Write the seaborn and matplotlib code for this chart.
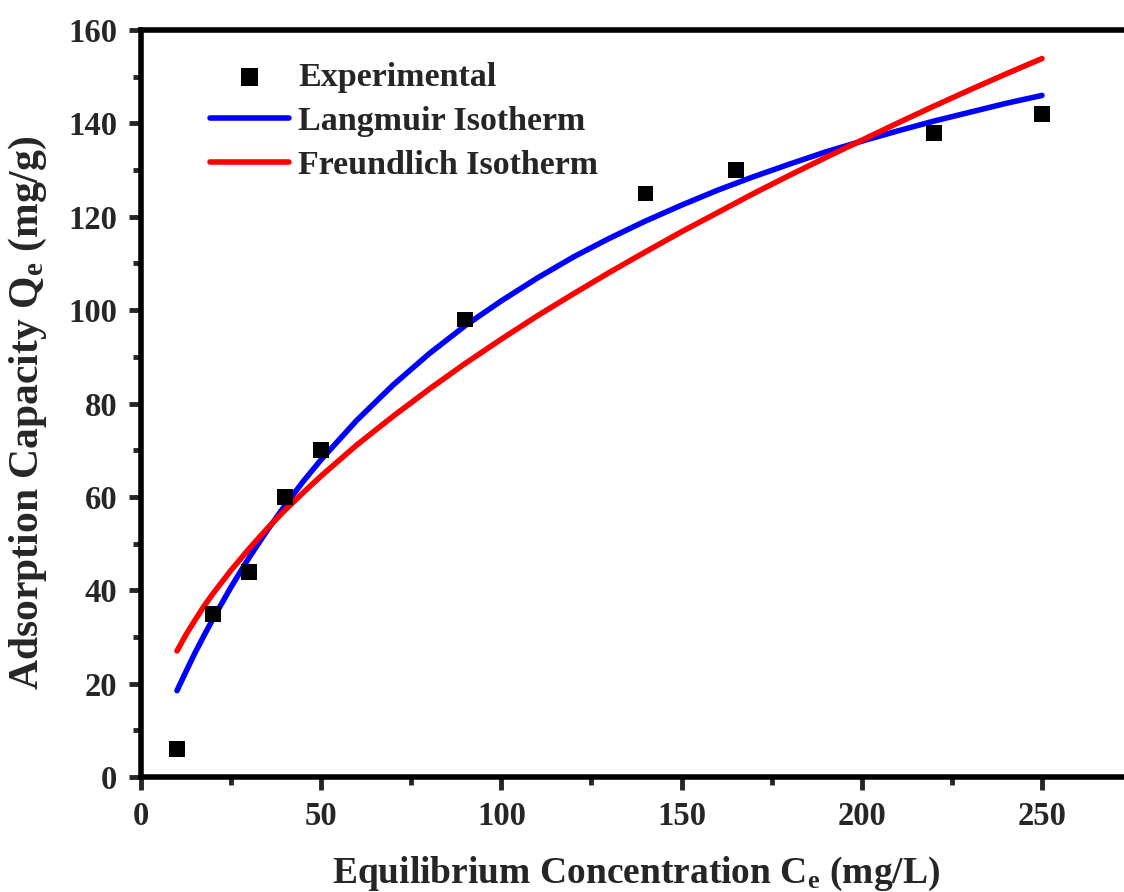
import matplotlib
matplotlib.use("Agg")
import matplotlib.pyplot as plt
from matplotlib.ticker import MultipleLocator
import pandas as pd
import seaborn as sns

# Measured equilibrium data
ce_exp = [10, 20, 30, 40, 50, 90, 140, 165, 220, 250]
qe_exp = [6, 35, 44, 60, 70, 98, 125, 130, 138, 142]

# Fitted isotherm curves
ce_fit = [10, 12.5, 15, 17.5, 20, 25, 30, 35, 40, 45, 50, 60, 70, 80, 90,
          100, 110, 120, 130, 140, 150, 160, 170, 180, 190, 200, 210, 220,
          230, 240, 250]
qe_langmuir = [18.5, 22.6, 26.6, 30.3, 33.9, 40.7, 47.0, 52.8, 58.2, 63.3,
               68.0, 76.5, 84.0, 90.7, 96.7, 102.0, 106.9, 111.4, 115.4,
               119.1, 122.5, 125.7, 128.6, 131.3, 133.9, 136.2, 138.4, 140.5,
               142.4, 144.3, 146.0]
qe_freundlich = [27.0, 30.5, 33.6, 36.6, 39.3, 44.3, 48.9, 53.2, 57.2, 60.9,
                 64.5, 71.2, 77.3, 83.1, 88.6, 93.8, 98.8, 103.5, 108.1,
                 112.5, 116.8, 120.9, 125.0, 128.9, 132.7, 136.4, 140.1,
                 143.7, 147.2, 150.6, 153.9]

sns.set_style("ticks")
plt.rcParams["font.family"] = ["Liberation Serif", "DejaVu Serif"]
plt.rcParams["font.weight"] = "bold"
plt.rcParams["mathtext.fontset"] = "custom"
plt.rcParams["mathtext.rm"] = "Liberation Serif:bold"
plt.rcParams["mathtext.it"] = "Liberation Serif:bold"
plt.rcParams["mathtext.bf"] = "Liberation Serif:bold"

fig = plt.figure(figsize=(11.24, 8.92), dpi=100)
ax = fig.add_axes([0.1254, 0.1289, 0.8818, 0.8374])

exp_df = pd.DataFrame({"Ce": ce_exp, "Qe": qe_exp})
fit_df = pd.DataFrame({"Ce": ce_fit, "L": qe_langmuir, "F": qe_freundlich})

sns.scatterplot(data=exp_df, x="Ce", y="Qe", marker="s", s=130, color="black",
                edgecolor="none", ax=ax, label="Experimental", zorder=3)
sns.lineplot(data=fit_df, x="Ce", y="L", color="#0000ff", lw=4.0, ax=ax,
             label="Langmuir Isotherm", zorder=2)
sns.lineplot(data=fit_df, x="Ce", y="F", color="#ff0000", lw=4.0, ax=ax,
             label="Freundlich Isotherm", zorder=2)

ax.set_xlim(0, 275)
ax.set_ylim(0, 160)
ax.xaxis.set_major_locator(MultipleLocator(50))
ax.xaxis.set_minor_locator(MultipleLocator(25))
ax.yaxis.set_major_locator(MultipleLocator(20))
ax.yaxis.set_minor_locator(MultipleLocator(10))

for side in ["left", "bottom", "top", "right"]:
    ax.spines[side].set_linewidth(4)
    ax.spines[side].set_color("black")

ax.tick_params(which="major", direction="out", length=9, width=3.5,
               labelsize=23.5, pad=8, top=False, right=False)
ax.tick_params(which="minor", direction="out", length=5.5, width=3.5,
               top=False, right=False)
for tl in ax.xaxis.get_ticklines(minor=True) + ax.yaxis.get_ticklines(minor=True) \
        + ax.xaxis.get_ticklines() + ax.yaxis.get_ticklines():
    tl.set_solid_capstyle("round")
for lab in ax.get_xticklabels() + ax.get_yticklabels():
    lab.set_fontweight("bold")

ax.set_xlabel(r"Equilibrium Concentration C$_{\mathrm{e}}$ (mg/L)",
              fontsize=27, fontweight="bold", labelpad=17)
ax.set_ylabel(r"Adsorption Capacity Q$_{\mathrm{e}}$ (mg/g)",
              fontsize=30, fontweight="bold")
ax.yaxis.set_label_coords(-0.093, 0.487)

leg = ax.legend(loc="upper left", bbox_to_anchor=(0.053, 0.98), frameon=False,
                prop={"family": "Liberation Serif", "weight": "bold", "size": 24.5},
                handlelength=2.3, handletextpad=0.27, labelspacing=0.38,
                borderpad=0, markerscale=1.1)

fig.savefig("out.png", dpi=100)
